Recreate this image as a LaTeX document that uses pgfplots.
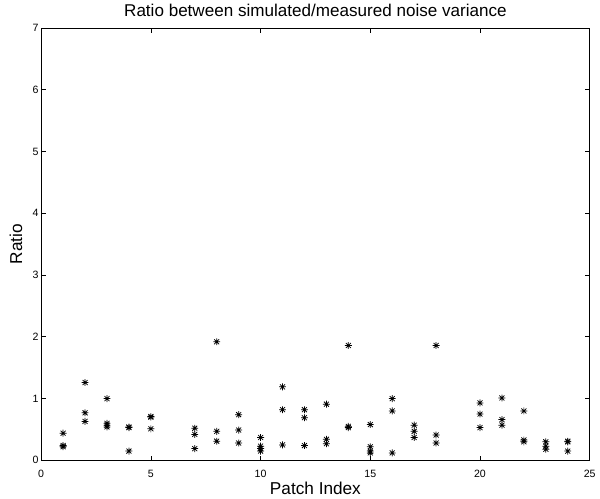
\documentclass[border=0pt]{standalone}
\usepackage{fontspec}
\setmainfont{Liberation Sans}
\usepackage{pgfplots}
\pgfplotsset{compat=1.18}
\pgfdeclareplotmark{mstar}{%
  \pgfpathmoveto{\pgfqpoint{-\pgfplotmarksize}{0pt}}\pgfpathlineto{\pgfqpoint{\pgfplotmarksize}{0pt}}%
  \pgfpathmoveto{\pgfqpoint{0pt}{-\pgfplotmarksize}}\pgfpathlineto{\pgfqpoint{0pt}{\pgfplotmarksize}}%
  \pgfpathmoveto{\pgfqpoint{-0.72\pgfplotmarksize}{-0.72\pgfplotmarksize}}\pgfpathlineto{\pgfqpoint{0.72\pgfplotmarksize}{0.72\pgfplotmarksize}}%
  \pgfpathmoveto{\pgfqpoint{-0.72\pgfplotmarksize}{0.72\pgfplotmarksize}}\pgfpathlineto{\pgfqpoint{0.72\pgfplotmarksize}{-0.72\pgfplotmarksize}}%
  \pgfusepathqstroke}

\pgfplotstableread{
x y
1 0.44
1 0.24
1 0.22
2 1.26
2 0.77
2 0.63
3 1.00
3 0.60
3 0.57
3 0.54
4 0.54
4 0.53
4 0.15
5 0.71
5 0.70
5 0.51
7 0.52
7 0.42
7 0.19
8 1.92
8 0.47
8 0.31
9 0.74
9 0.49
9 0.28
10 0.37
10 0.23
10 0.19
10 0.15
11 1.19
11 0.82
11 0.25
12 0.82
12 0.69
12 0.24
13 0.91
13 0.34
13 0.27
14 1.86
14 0.55
14 0.53
15 0.58
15 0.22
15 0.15
15 0.12
16 1.00
16 0.80
16 0.12
17 0.57
17 0.47
17 0.37
18 1.86
18 0.41
18 0.28
20 0.93
20 0.75
20 0.53
21 1.01
21 0.66
21 0.57
22 0.80
22 0.33
22 0.30
23 0.30
23 0.23
23 0.18
24 0.31
24 0.30
24 0.15
}\ratiodata

\begin{document}
\begin{tikzpicture}
\begin{axis}[
  name=ax,
  scale only axis,
  width=414.4pt, height=326.6pt,
  xmin=0, xmax=25, ymin=0, ymax=7,
  xtick={0,5,...,25}, ytick={0,1,...,7},
  tick align=inside, tick pos=both,
  major tick length=3.5pt,
  axis line style={line width=0.6pt},
  every tick/.style={black,line width=0.5pt},
  ticklabel style={font=\fontsize{8}{9}\selectfont},
  yticklabel style={inner sep=1.8pt},
  xticklabel style={anchor=base, yshift=-12.6pt},
  /pgf/number format/assume math mode=true,
  xlabel={Patch Index}, ylabel={Ratio},
  label style={font=\fontsize{13}{15}\selectfont},
  xlabel style={at={(axis description cs:0.5,0)}, anchor=base, yshift=-25.6pt},
  ylabel style={at={(axis description cs:-0.0461,0.5)}, anchor=center},
  title={Ratio between simulated/measured noise variance},
  title style={font=\fontsize{12.9}{14}\selectfont, at={(axis description cs:0.5,1)}, anchor=base, yshift=2.5pt},
]
\addplot[only marks, mark=mstar, mark size=2.6pt, mark options={line width=0.55pt}, black] table[x=x,y=y] {\ratiodata};
\end{axis}
\path ([shift={(-31.1pt,-26.6pt)}]ax.south west) rectangle ([shift={(4.5pt,18pt)}]ax.north east);
\end{tikzpicture}
\end{document}
